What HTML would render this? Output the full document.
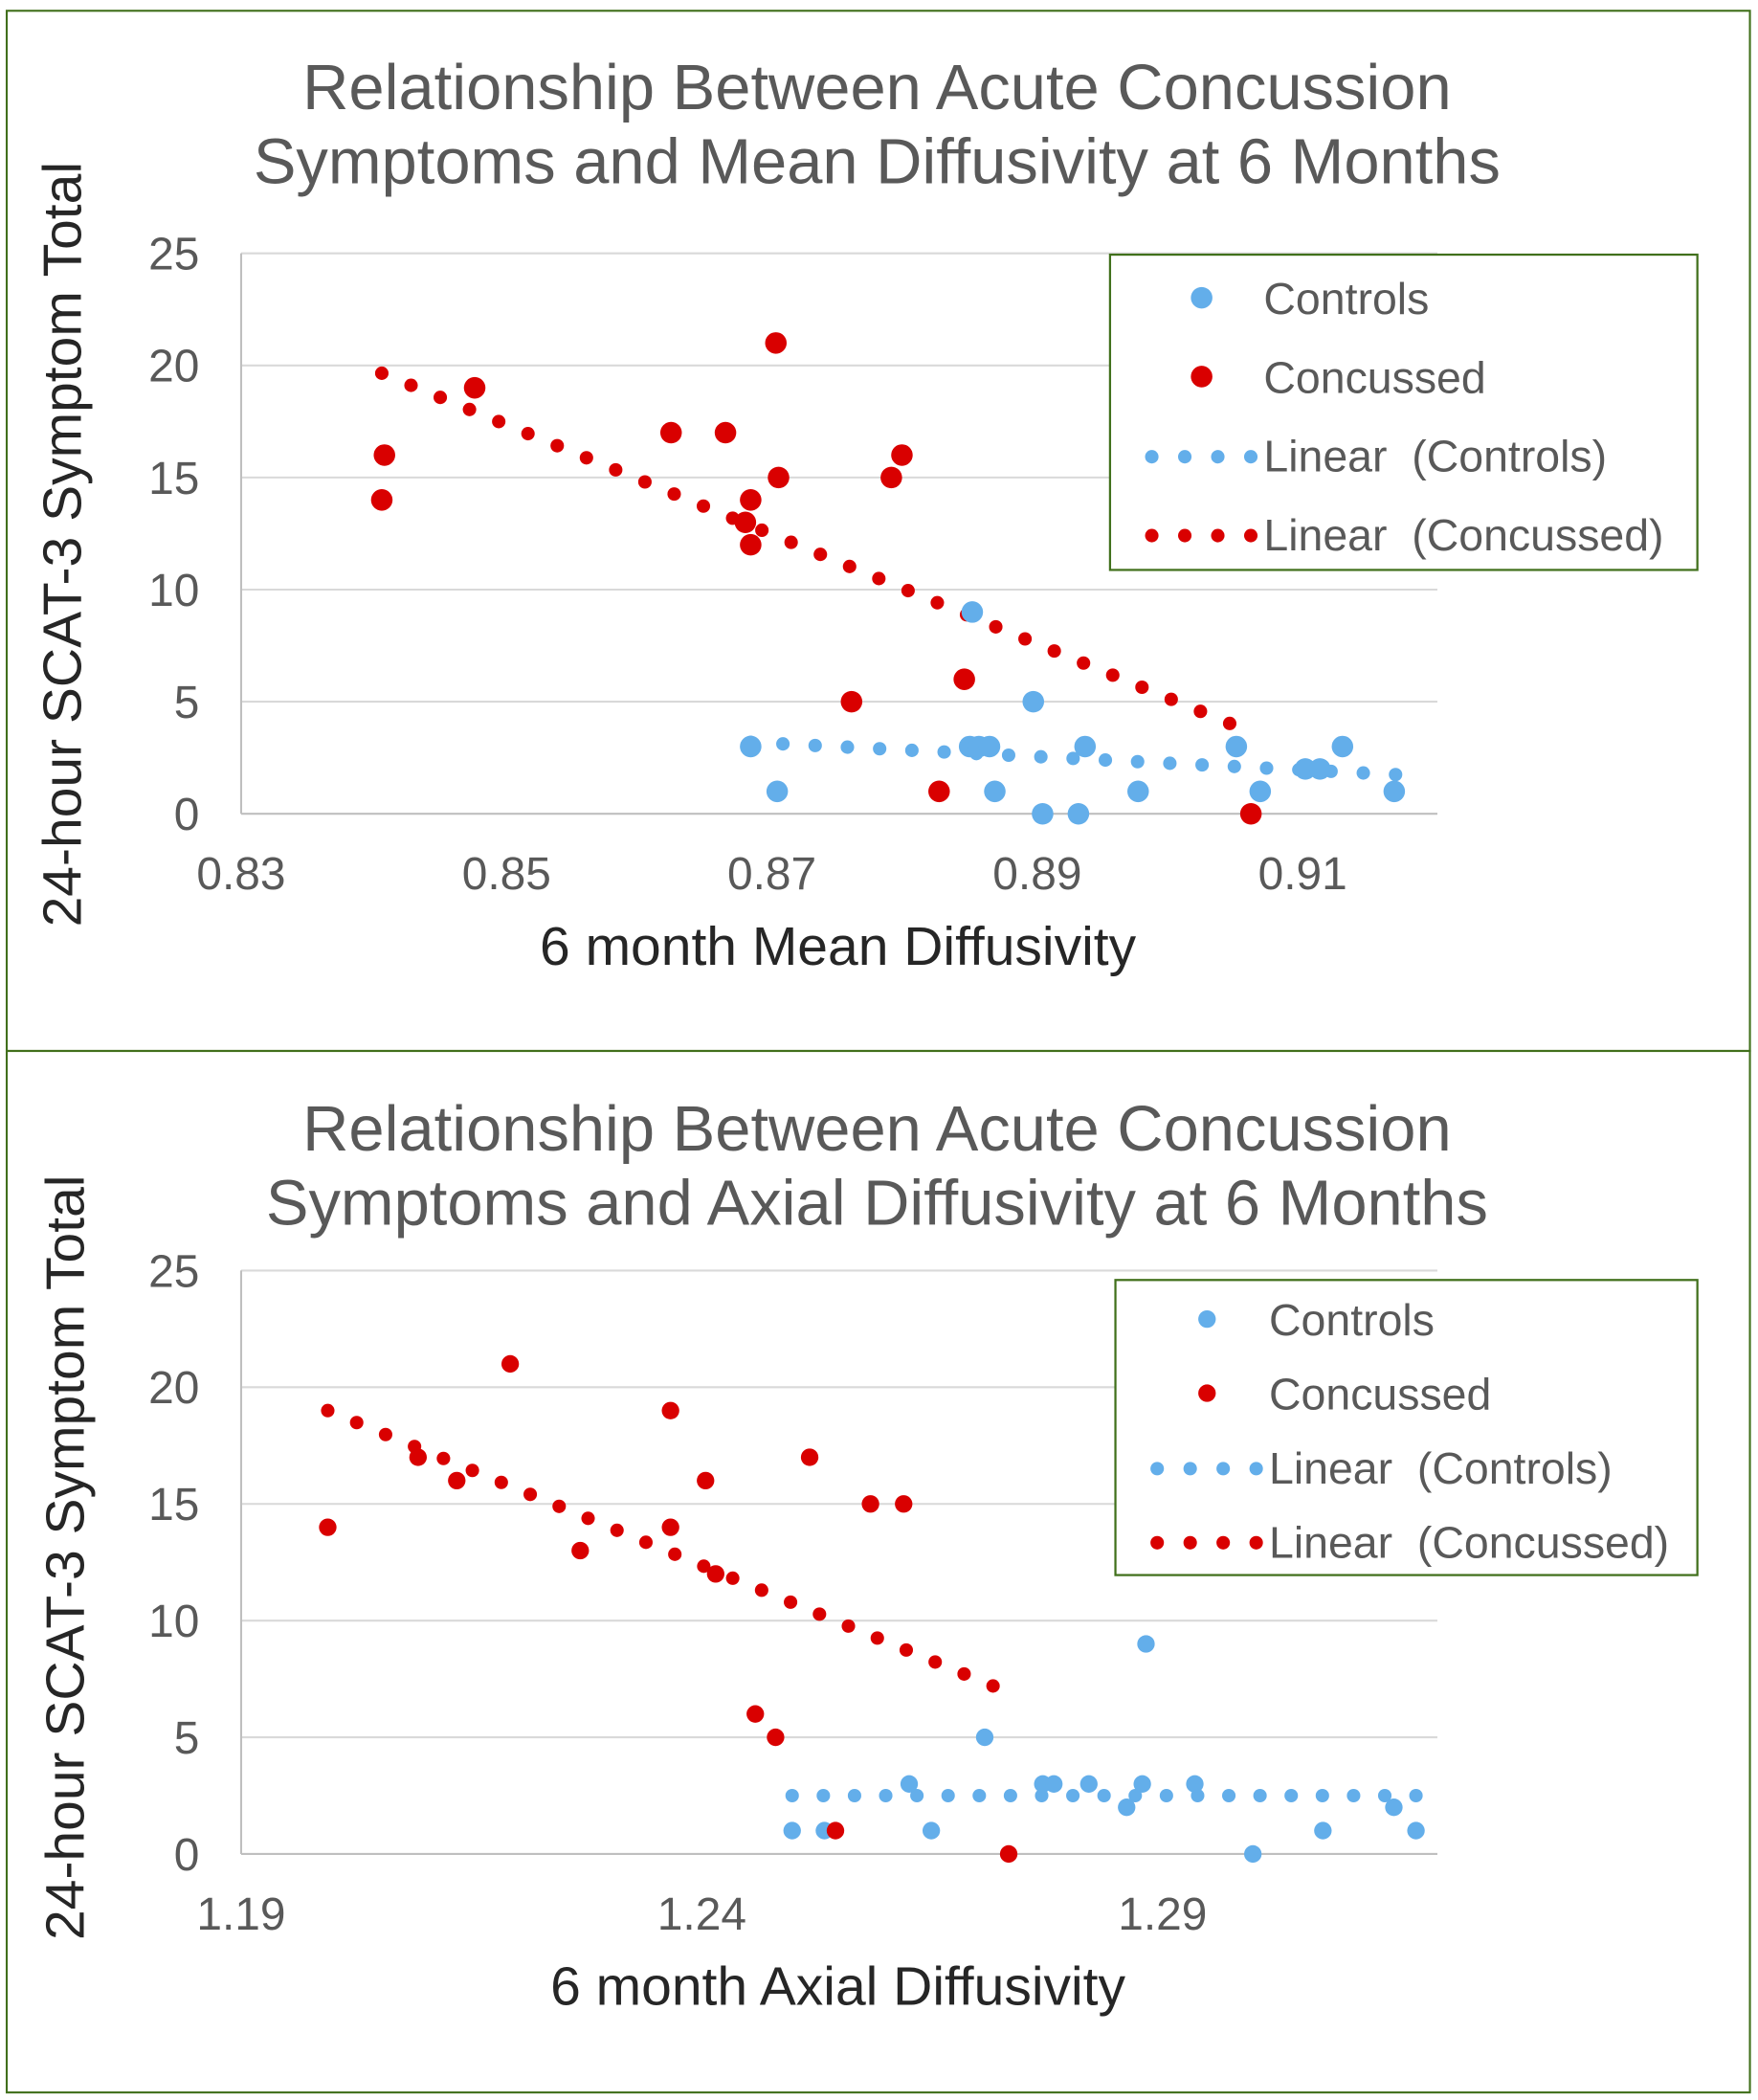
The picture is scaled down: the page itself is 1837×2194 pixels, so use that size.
<!DOCTYPE html>
<html><head><meta charset="utf-8"><style>
html,body{margin:0;padding:0;background:#fff;}
svg{display:block;font-family:"Liberation Sans",Arial,sans-serif;}
text{white-space:pre;}
</style></head><body>
<svg id="s" width="1837" height="2194" viewBox="0 0 1305 1558.6" preserveAspectRatio="none" xmlns="http://www.w3.org/2000/svg">
<rect x="5" y="8" width="1294" height="772" fill="none" stroke="#41701c" stroke-width="1.5"/>
<rect x="5" y="780" width="1294" height="773" fill="none" stroke="#41701c" stroke-width="1.5"/>
</svg>
<script>
// ---- Chart 1 data (Mean Diffusivity) ----
const md_xTicks=[0.83,0.85,0.87,0.89,0.91];
const md_yTicks=[0,5,10,15,20,25];
const md_concX=[0.8406,0.8408,0.8476,0.8624,0.8665,0.8703,0.8705,0.8684,0.868,0.8684,0.879,0.8798,0.876,0.8845,0.8826,0.9061];
const md_concY=[14,16,19,17,17,21,15,14,13,12,15,16,5,6,1,0];
const md_ctrlX=[0.8851,0.8897,0.8684,0.8704,0.8849,0.8856,0.8864,0.8868,0.8904,0.8931,0.8936,0.8976,0.905,0.9068,0.9102,0.9113,0.913,0.9169];
const md_ctrlY=[9,5,3,1,3,3,3,1,0,0,3,1,3,1,2,2,3,1];
const md_concTrendX=[0.8406,0.9045];
const md_concTrendY=[19.65,4.03];
const md_ctrlTrendX=[0.8684,0.9170];
const md_ctrlTrendY=[3.19,1.75];
// ---- Chart 2 data (Axial Diffusivity) ----
const ad_xTicks=[1.19,1.24,1.29];
const ad_yTicks=[0,5,10,15,20,25];
const ad_concX=[1.1994,1.2192,1.2366,1.2366,1.2404,1.2268,1.2517,1.2583,1.2619,1.2458,1.248,1.2545,1.2733,1.2092,1.2134,1.2415];
const ad_concY=[14,21,19,14,16,13,17,15,15,6,5,1,0,17,16,12];
const ad_ctrlX=[1.2882,1.2707,1.2498,1.2533,1.2625,1.2649,1.277,1.2782,1.282,1.2861,1.2878,1.2935,1.2998,1.3074,1.3151,1.3175];
const ad_ctrlY=[9,5,1,1,3,1,3,3,3,2,3,3,0,1,2,1];
const ad_concTrendX=[1.1994,1.2716];
const ad_concTrendY=[19,7.2];
const ad_ctrlTrendX=[1.2498,1.3175];
const ad_ctrlTrendY=[2.5,2.5];

const NS="http://www.w3.org/2000/svg";
const svg=document.getElementById('s');
const BLUE="#63aeea",RED="#d90000";
function mk(tag,attrs,parent){const e=document.createElementNS(NS,tag);for(const k in attrs)e.setAttribute(k,attrs[k]);(parent||svg).appendChild(e);return e;}
function txt(s,attrs){const e=mk('text',attrs);e.textContent=s;return e;}

function chart(cfg){
  const sx=v=>cfg.x0+(v-cfg.xmin)/(cfg.xmax-cfg.xmin)*(cfg.x1-cfg.x0);
  const sy=v=>cfg.y0-(v-0)/25*(cfg.y0-cfg.y1);
  cfg.title.forEach((t,i)=>{
    const e=txt(t,{x:651,y:cfg.titleY+i*55,'font-size':47.5,fill:'#595959','text-anchor':'middle'});
    
    
  });
  cfg.yTicks.forEach(v=>{
    if(v>0){const g=mk('line',{x1:cfg.x0,x2:cfg.x1,y1:sy(v),y2:sy(v),stroke:'#d9d9d9','stroke-width':1.5});
    
    }
    const t=txt(String(v),{x:cfg.x0-31,y:sy(v)+12,'font-size':34,fill:'#595959','text-anchor':'end'});
    
    
  });
  const ax=mk('line',{x1:cfg.x0,x2:cfg.x1,y1:cfg.y0,y2:cfg.y0,stroke:'#bfbfbf','stroke-width':1.5});
  
  
  const ay=mk('line',{x1:cfg.x0,x2:cfg.x0,y1:cfg.y0,y2:cfg.y1,stroke:'#bfbfbf','stroke-width':1.5});
  
  
  cfg.xTicks.forEach(v=>{
    const t=txt(v.toFixed(2),{x:sx(v),y:cfg.y0+56,'font-size':34,fill:'#595959','text-anchor':'middle'});
    
    
  });
  const xt=txt(cfg.xTitle,{x:622,y:cfg.y0+112,'font-size':40.5,fill:'#262626','text-anchor':'middle'});
  
  
  const yt=txt('24-hour SCAT-3 Symptom Total',{x:0,y:0,'font-size':40.5,fill:'#262626','text-anchor':'middle',transform:`translate(${cfg.yTitleX},${cfg.yTitleY}) rotate(-90)`});
  
  
  function trend(X,Y,col,name){
    const x1=sx(X[0]),y1=sy(Y[0]),x2=sx(X[1]),y2=sy(Y[1]);
    const L=Math.hypot(x2-x1,y2-y1);const n=Math.round(L/23.5);
    const g=mk('g',{});
    
    
    for(let i=0;i<=n;i++){mk('circle',{cx:x1+(x2-x1)*i/n,cy:y1+(y2-y1)*i/n,r:cfg.tr,fill:col},g);}
  }
  trend(cfg.ctrlTX,cfg.ctrlTY,BLUE,'trendline-controls');
  trend(cfg.concTX,cfg.concTY,RED,'trendline-concussed');
  cfg.ctrlX.forEach((v,i)=>{const c=mk('circle',{cx:sx(v),cy:sy(cfg.ctrlY[i]),r:cfg.r,fill:BLUE});
    
    });
  cfg.concX.forEach((v,i)=>{const c=mk('circle',{cx:sx(v),cy:sy(cfg.concY[i]),r:cfg.r,fill:RED});
    
    });
  const L=cfg.leg;
  const lg=mk('g',{});
  
  
  mk('rect',{x:L.x,y:L.y,width:L.w,height:L.h,fill:'#fff',stroke:'#41701c','stroke-width':1.6},lg);
  const labels=['Controls','Concussed','Linear  (Controls)','Linear  (Concussed)'];
  const cols=[BLUE,RED,BLUE,RED];
  labels.forEach((s,i)=>{
    const cy=L.y+L.top+i*L.dy;
    if(i<2){mk('circle',{cx:L.x+68,cy:cy,r:cfg.r,fill:cols[i]},lg);}
    else{for(let k=0;k<4;k++)mk('circle',{cx:L.x+31+k*24.5,cy:cy+1,r:5,fill:cols[i]},lg);}
    const t=mk('text',{x:L.x+114,y:cy+12,'font-size':33,fill:'#595959'},lg);
    t.textContent=s;
    
    
  });
}
chart({x0:179,x1:1067,xmin:0.83,xmax:0.83+0.02*888/197,y0:604,y1:188,r:8,tr:5,
  xTicks:md_xTicks,yTicks:md_yTicks,concX:md_concX,concY:md_concY,ctrlX:md_ctrlX,ctrlY:md_ctrlY,
  concTX:md_concTrendX,concTY:md_concTrendY,ctrlTX:md_ctrlTrendX,ctrlTY:md_ctrlTrendY,
  title:['Relationship Between Acute Concussion','Symptoms and Mean Diffusivity at 6 Months'],titleY:81,
  xTitle:'6 month Mean Diffusivity',yTitleX:60,yTitleY:404,
  leg:{x:824,y:189,w:436,h:234,top:32,dy:58.5}});
chart({x0:179,x1:1067,xmin:1.19,xmax:1.19+0.05*888/342,y0:1376,y1:943,r:6.5,tr:5,
  xTicks:ad_xTicks,yTicks:ad_yTicks,concX:ad_concX,concY:ad_concY,ctrlX:ad_ctrlX,ctrlY:ad_ctrlY,
  concTX:ad_concTrendX,concTY:ad_concTrendY,ctrlTX:ad_ctrlTrendX,ctrlTY:ad_ctrlTrendY,
  title:['Relationship Between Acute Concussion','Symptoms and Axial Diffusivity at 6 Months'],titleY:854,
  xTitle:'6 month Axial Diffusivity',yTitleX:62,yTitleY:1156,
  leg:{x:828,y:950,w:432,h:219,top:29,dy:55}});
</script>
</body></html>
